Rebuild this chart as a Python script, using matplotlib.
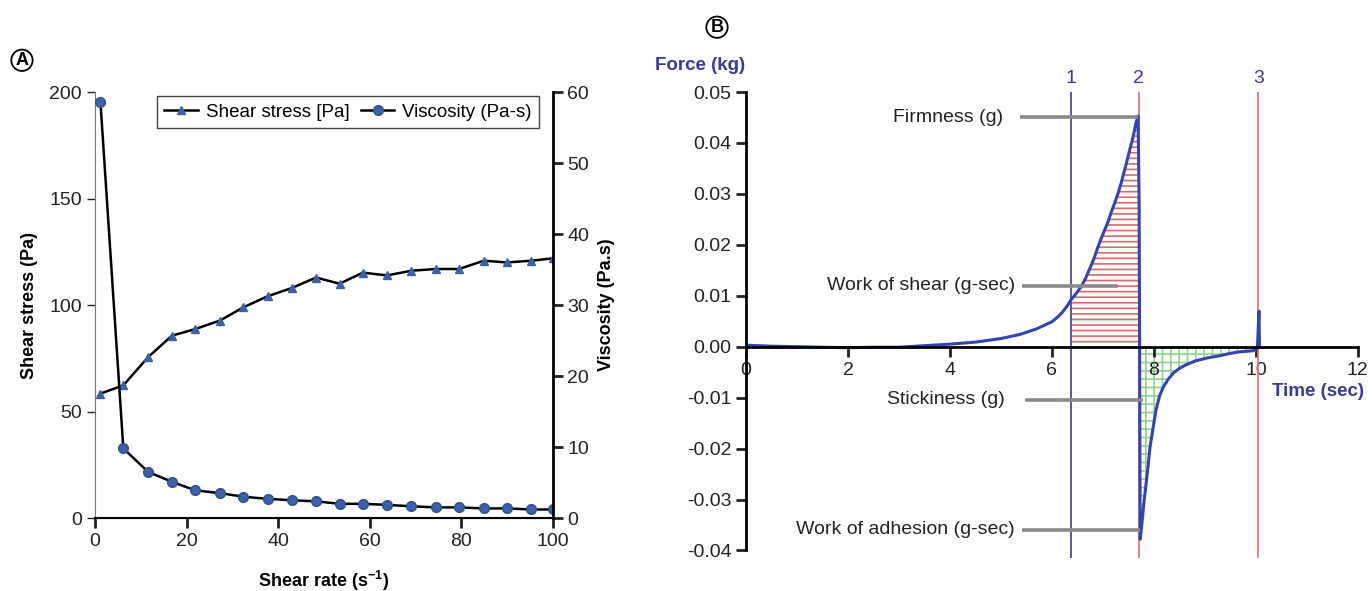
import matplotlib.pyplot as plt
from matplotlib.transforms import blended_transform_factory

plt.rcParams["font.family"] = ["Liberation Sans", "DejaVu Sans"]
plt.rcParams["hatch.linewidth"] = 1.2

# panel A: rheology
shear_rate = [1.2, 6.2, 11.6, 16.8, 21.9, 27.3, 32.4, 37.7, 43.0, 48.3,
              53.4, 58.5, 63.8, 69.1, 74.4, 79.5, 84.9, 90.0, 95.3, 100.0]
shear_stress = [58.4, 62.3, 75.5, 85.6, 88.7, 92.7, 98.9, 104.1, 108.0, 112.9,
                110.0, 115.2, 113.9, 116.1, 116.9, 116.9, 120.8, 120.0, 120.8, 121.9]
viscosity = [58.6, 9.8, 6.5, 5.1, 3.9, 3.5, 3.0, 2.7, 2.5, 2.35,
             2.0, 2.0, 1.85, 1.65, 1.5, 1.5, 1.35, 1.35, 1.2, 1.2]

# panel B: texture analyser force-time curve
time_s = [0.0, 0.5, 1.0, 1.5, 2.0, 2.5, 3.0, 3.5, 4.0, 4.5, 5.0, 5.37, 5.7, 6.0,
          6.1, 6.2, 6.3, 6.38, 6.48, 6.58, 6.65, 6.75, 6.82, 6.9, 6.96, 7.03,
          7.1, 7.16, 7.23, 7.3, 7.36, 7.42, 7.46, 7.5, 7.54, 7.58, 7.62, 7.65,
          7.69, 7.71, 7.72, 7.73, 7.75, 7.78, 7.8, 7.84, 7.88, 7.92, 7.98,
          8.04, 8.11, 8.18, 8.28, 8.38, 8.48, 8.6, 8.81, 9.05, 9.28, 9.5,
          9.68, 9.94, 10.03, 10.06, 10.07]
force_kg = [0.0003, 0.0001, 0.0, -0.0001, -0.0002, -0.0001, -0.0001, 0.0002,
            0.0005, 0.0009, 0.0016, 0.0024, 0.0035, 0.0049, 0.0057, 0.0067,
            0.0080, 0.0093, 0.0105, 0.0119, 0.0132, 0.0155, 0.0172, 0.0195,
            0.0211, 0.0228, 0.0245, 0.0263, 0.0282, 0.0302, 0.0322, 0.0345,
            0.0360, 0.0376, 0.0392, 0.0407, 0.0425, 0.0440, 0.0453, 0.028,
            0.0, -0.0378, -0.0362, -0.0332, -0.031, -0.0275, -0.024, -0.020,
            -0.0162, -0.0125, -0.0097, -0.0080, -0.0064, -0.0052, -0.0044,
            -0.0037, -0.0028, -0.0022, -0.0018, -0.0013, -0.0010, -0.0008,
            -0.0003, 0.007, 0.0]
marker_times = [6.38, 7.70, 10.05]
marker_names = ["1", "2", "3"]
marker_colors = ["#4a4aa8", "#e07a7a", "#e07a7a"]
notes = ["Firmness (g)", "Work of shear (g-sec)", "Stickiness (g)", "Work of adhesion (g-sec)"]
note_text_x = [5.04, 5.27, 5.08, 5.27]
note_y = [0.0450, 0.0120, -0.0104, -0.0359]
note_line_x = [(5.37, 7.69), (5.41, 7.29), (5.47, 7.78), (5.41, 7.73)]

blue_mk = "#3b62a6"
navy = "#3a3a9c"
fs = 14

fig = plt.figure(figsize=(13.72, 5.91), dpi=100)

# ---------- panel A ----------
ax = fig.add_axes([0.0692, 0.1235, 0.3338, 0.7208])
ax2 = ax.twinx()
l1, = ax.plot(shear_rate, shear_stress, color="black", lw=1.8, marker="^",
              ms=5.5, mfc=blue_mk, mec=blue_mk, label="Shear stress [Pa]")
l2, = ax2.plot(shear_rate, viscosity, color="black", lw=1.8, marker="o",
               ms=7, mfc=blue_mk, mec="#2c4f8f", label="Viscosity (Pa-s)")
ax.set_xlim(0, 100)
ax.set_ylim(0, 200)
ax2.set_ylim(0, 60)
ax.set_xticks(range(0, 101, 20))
ax.set_yticks(range(0, 201, 50))
ax2.set_yticks(range(0, 61, 10))
for a in (ax, ax2):
    a.spines["top"].set_visible(False)
ax.spines["left"].set_color("#777777")
ax.spines["left"].set_linewidth(0.8)
ax2.spines["left"].set_visible(False)
ax2.spines["right"].set_linewidth(2)
ax.spines["bottom"].set_linewidth(1.5)
ax.spines["right"].set_visible(False)
ax.tick_params(axis="y", direction="out", length=6, width=1, labelsize=fs, colors="#222222")
ax.tick_params(axis="x", direction="out", length=7, width=2, labelsize=fs, colors="#222222")
ax2.tick_params(axis="y", direction="out", length=7, width=2, labelsize=fs, colors="#222222")
ax.set_xlabel("Shear rate (s$^{\\mathregular{-1}}$)", fontsize=13, fontweight="bold", labelpad=14)
ax.set_ylabel("Shear stress (Pa)", fontsize=13, fontweight="bold", labelpad=8)
ax2.set_ylabel("Viscosity (Pa.s)", fontsize=13, fontweight="bold", labelpad=6)
leg = ax.legend(handles=[l1, l2], ncol=2, loc="upper right", bbox_to_anchor=(0.99, 1.012),
                fontsize=13.5, fancybox=False, edgecolor="#444444", framealpha=1,
                handlelength=1.8, handletextpad=0.4, columnspacing=0.6, borderpad=0.4)
leg.get_frame().set_linewidth(1)

# ---------- panel B ----------
bx = fig.add_axes([0.5437, 0.0557, 0.446, 0.7886])
bx.set_xlim(0, 12)
bx.set_ylim(-0.0415, 0.05)

bx.fill_between(time_s, force_kg, 0,
                where=[6.38 <= t <= 7.71 for t in time_s],
                facecolor="none", edgecolor="#d86a6a", hatch="---", lw=0)
bx.fill_between(time_s, force_kg, 0,
                where=[7.72 <= t <= 10.0 for t in time_s],
                facecolor="none", edgecolor="#8fd38f", hatch="++", lw=0)

for t, c in zip(marker_times, marker_colors):
    bx.vlines(t, -0.0415, 0.05, color=c, lw=1.3)

bx.plot(time_s, force_kg, color="#3344b0", lw=2.2)

trans = blended_transform_factory(bx.transData, bx.transAxes)
for t, name in zip(marker_times, marker_names):
    bx.text(t, 1.01, name, transform=trans, ha="center", va="bottom",
            fontsize=fs, color=navy)

for txt, tx, y, (x0, x1) in zip(notes, note_text_x, note_y, note_line_x):
    bx.plot([x0, x1], [y, y], color="#8a8a8a", lw=2.6, solid_capstyle="butt")
    bx.text(tx, y, txt, ha="right", va="center", fontsize=fs, color="#222222")

bx.spines["top"].set_visible(False)
bx.spines["right"].set_visible(False)
bx.spines["left"].set_bounds(-0.04, 0.05)
bx.spines["left"].set_linewidth(2)
bx.spines["bottom"].set_position(("data", 0))
bx.spines["bottom"].set_linewidth(2)
bx.set_xticks(range(0, 13, 2))
bx.set_yticks([0.05, 0.04, 0.03, 0.02, 0.01, 0.0, -0.01, -0.02, -0.03, -0.04])
bx.set_yticklabels(["0.05", "0.04", "0.03", "0.02", "0.01", "0.00",
                    "-0.01", "-0.02", "-0.03", "-0.04"])
bx.tick_params(axis="both", direction="out", length=7, width=2, labelsize=fs, colors="#222222")
bx.tick_params(axis="x", pad=4)

fig.text(0.510, 0.890, "Force (kg)", ha="center", va="center", fontsize=13.5,
         fontweight="bold", color=navy)
fig.text(0.961, 0.338, "Time (sec)", ha="center", va="center", fontsize=13.5,
         fontweight="bold", color=navy)

# panel letters
for x, y, s in [(0.016, 0.898, "A"), (0.5226, 0.954, "B")]:
    fig.text(x, y, s, ha="center", va="center", fontsize=13, fontweight="bold",
             bbox=dict(boxstyle="circle,pad=0.12", fc="white", ec="black", lw=1.3))

fig.savefig("out.png", dpi=100)
